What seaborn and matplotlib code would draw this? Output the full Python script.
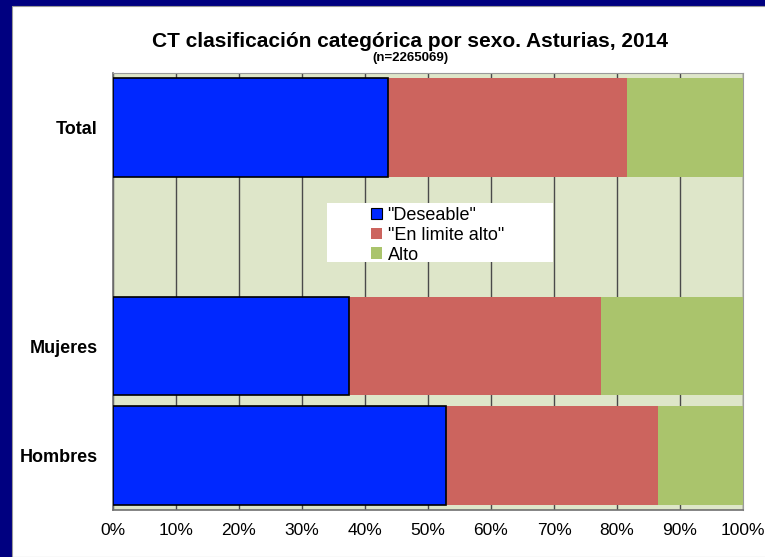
import pandas as pd
import seaborn as sns
import matplotlib.pyplot as plt
from matplotlib.patches import Rectangle, Patch
from matplotlib.ticker import MultipleLocator, PercentFormatter

# datos (% por categoría)
grupos = ['Total', 'Mujeres', 'Hombres']
deseable = [43.7, 37.5, 52.9]
limite_alto = [37.9, 40.0, 33.6]
alto = [18.4, 22.5, 13.5]
orden = ['Total', ' ', 'Mujeres', 'Hombres']
series = ['"Deseable"', '"En limite alto"', 'Alto']
colores = ['#0028FF', '#CC645E', '#AAC46C']

dados = pd.DataFrame({'Grupo': grupos, 'Deseable': deseable,
                      'Limite': limite_alto, 'Alto': alto})
dados['c1'] = dados['Deseable']
dados['c2'] = dados['Deseable'] + dados['Limite']
dados['c3'] = dados['c2'] + dados['Alto']

sns.set_style('white')
plt.rcParams['font.family'] = ['Liberation Sans', 'DejaVu Sans']
plt.rcParams['text.color'] = 'black'
plt.rcParams['xtick.color'] = 'black'
plt.rcParams['ytick.color'] = 'black'

fig = plt.figure(figsize=(7.65, 5.57), dpi=100, facecolor='#000080')
fig.patches.append(Rectangle((12 / 765, 0), 1, 1 - 6 / 557, transform=fig.transFigure,
                             facecolor='white', edgecolor='#9a9a9a', lw=0.8, zorder=-5))
ax = fig.add_axes([113 / 765, 1 - 510 / 557, 630 / 765, 437 / 557])
ax.set_zorder(3)
ax.set_facecolor('#DEE6C9')

sns.barplot(data=dados, y='Grupo', x='c3', order=orden, color=colores[2], width=0.9,
            saturation=1, linewidth=0, ax=ax, zorder=3)
sns.barplot(data=dados, y='Grupo', x='c2', order=orden, color=colores[1], width=0.9,
            saturation=1, linewidth=0, ax=ax, zorder=3)
sns.barplot(data=dados, y='Grupo', x='c1', order=orden, color=colores[0], width=0.9,
            saturation=1, edgecolor='black', linewidth=1.2, ax=ax, zorder=3)

ax.set_xlim(0, 100)
ax.set_ylim(3.5, -0.5)
ax.xaxis.set_major_locator(MultipleLocator(10))
ax.xaxis.set_major_formatter(PercentFormatter(decimals=0))
ax.grid(axis='x', color='#4a4a4a', lw=1, zorder=1)
ax.set_axisbelow(True)
ax.set_xlabel('')
ax.set_ylabel('')
ax.set_yticks(range(4))
ax.set_yticklabels(orden, fontsize=13, fontweight='bold')
ax.set_yticks([-0.5, 0.5, 1.5, 2.5, 3.5], minor=True)
ax.tick_params(axis='y', which='major', length=0, pad=11)
ax.tick_params(axis='y', which='minor', length=4, color='#808080', direction='out')
ax.tick_params(axis='x', length=5, color='#404040', direction='inout', labelsize=12.5, pad=7)
for lado in ['top', 'right']:
    ax.spines[lado].set_color('#9a9a9a')
for lado in ['left', 'bottom']:
    ax.spines[lado].set_color('#707070')
    ax.spines[lado].set_linewidth(1.2)

# leyenda sobre caja blanca
ax.add_patch(Rectangle((0.34, 0.567), 0.358, 0.135, transform=ax.transAxes,
                       facecolor='white', edgecolor='none', zorder=5))
handles = [Patch(facecolor=c, edgecolor='black' if i == 0 else 'none', lw=0.8)
           for i, c in enumerate(colores)]
leg = ax.legend(handles, series, loc='upper left', bbox_to_anchor=(0.39, 0.722),
                frameon=False, fontsize=13, handlelength=0.6, handleheight=0.6,
                handletextpad=0.3, labelspacing=0.15, borderpad=0.2)
leg.set_zorder(6)

fig.text(0.536, 0.926, 'CT clasificación categórica por sexo. Asturias, 2014',
         ha='center', va='center', fontsize=15, fontweight='bold')
fig.text(0.536, 0.896, '(n=2265069)', ha='center', va='center', fontsize=9.5,
         fontweight='bold')

fig.savefig('out.png', dpi=100, facecolor=fig.get_facecolor())
